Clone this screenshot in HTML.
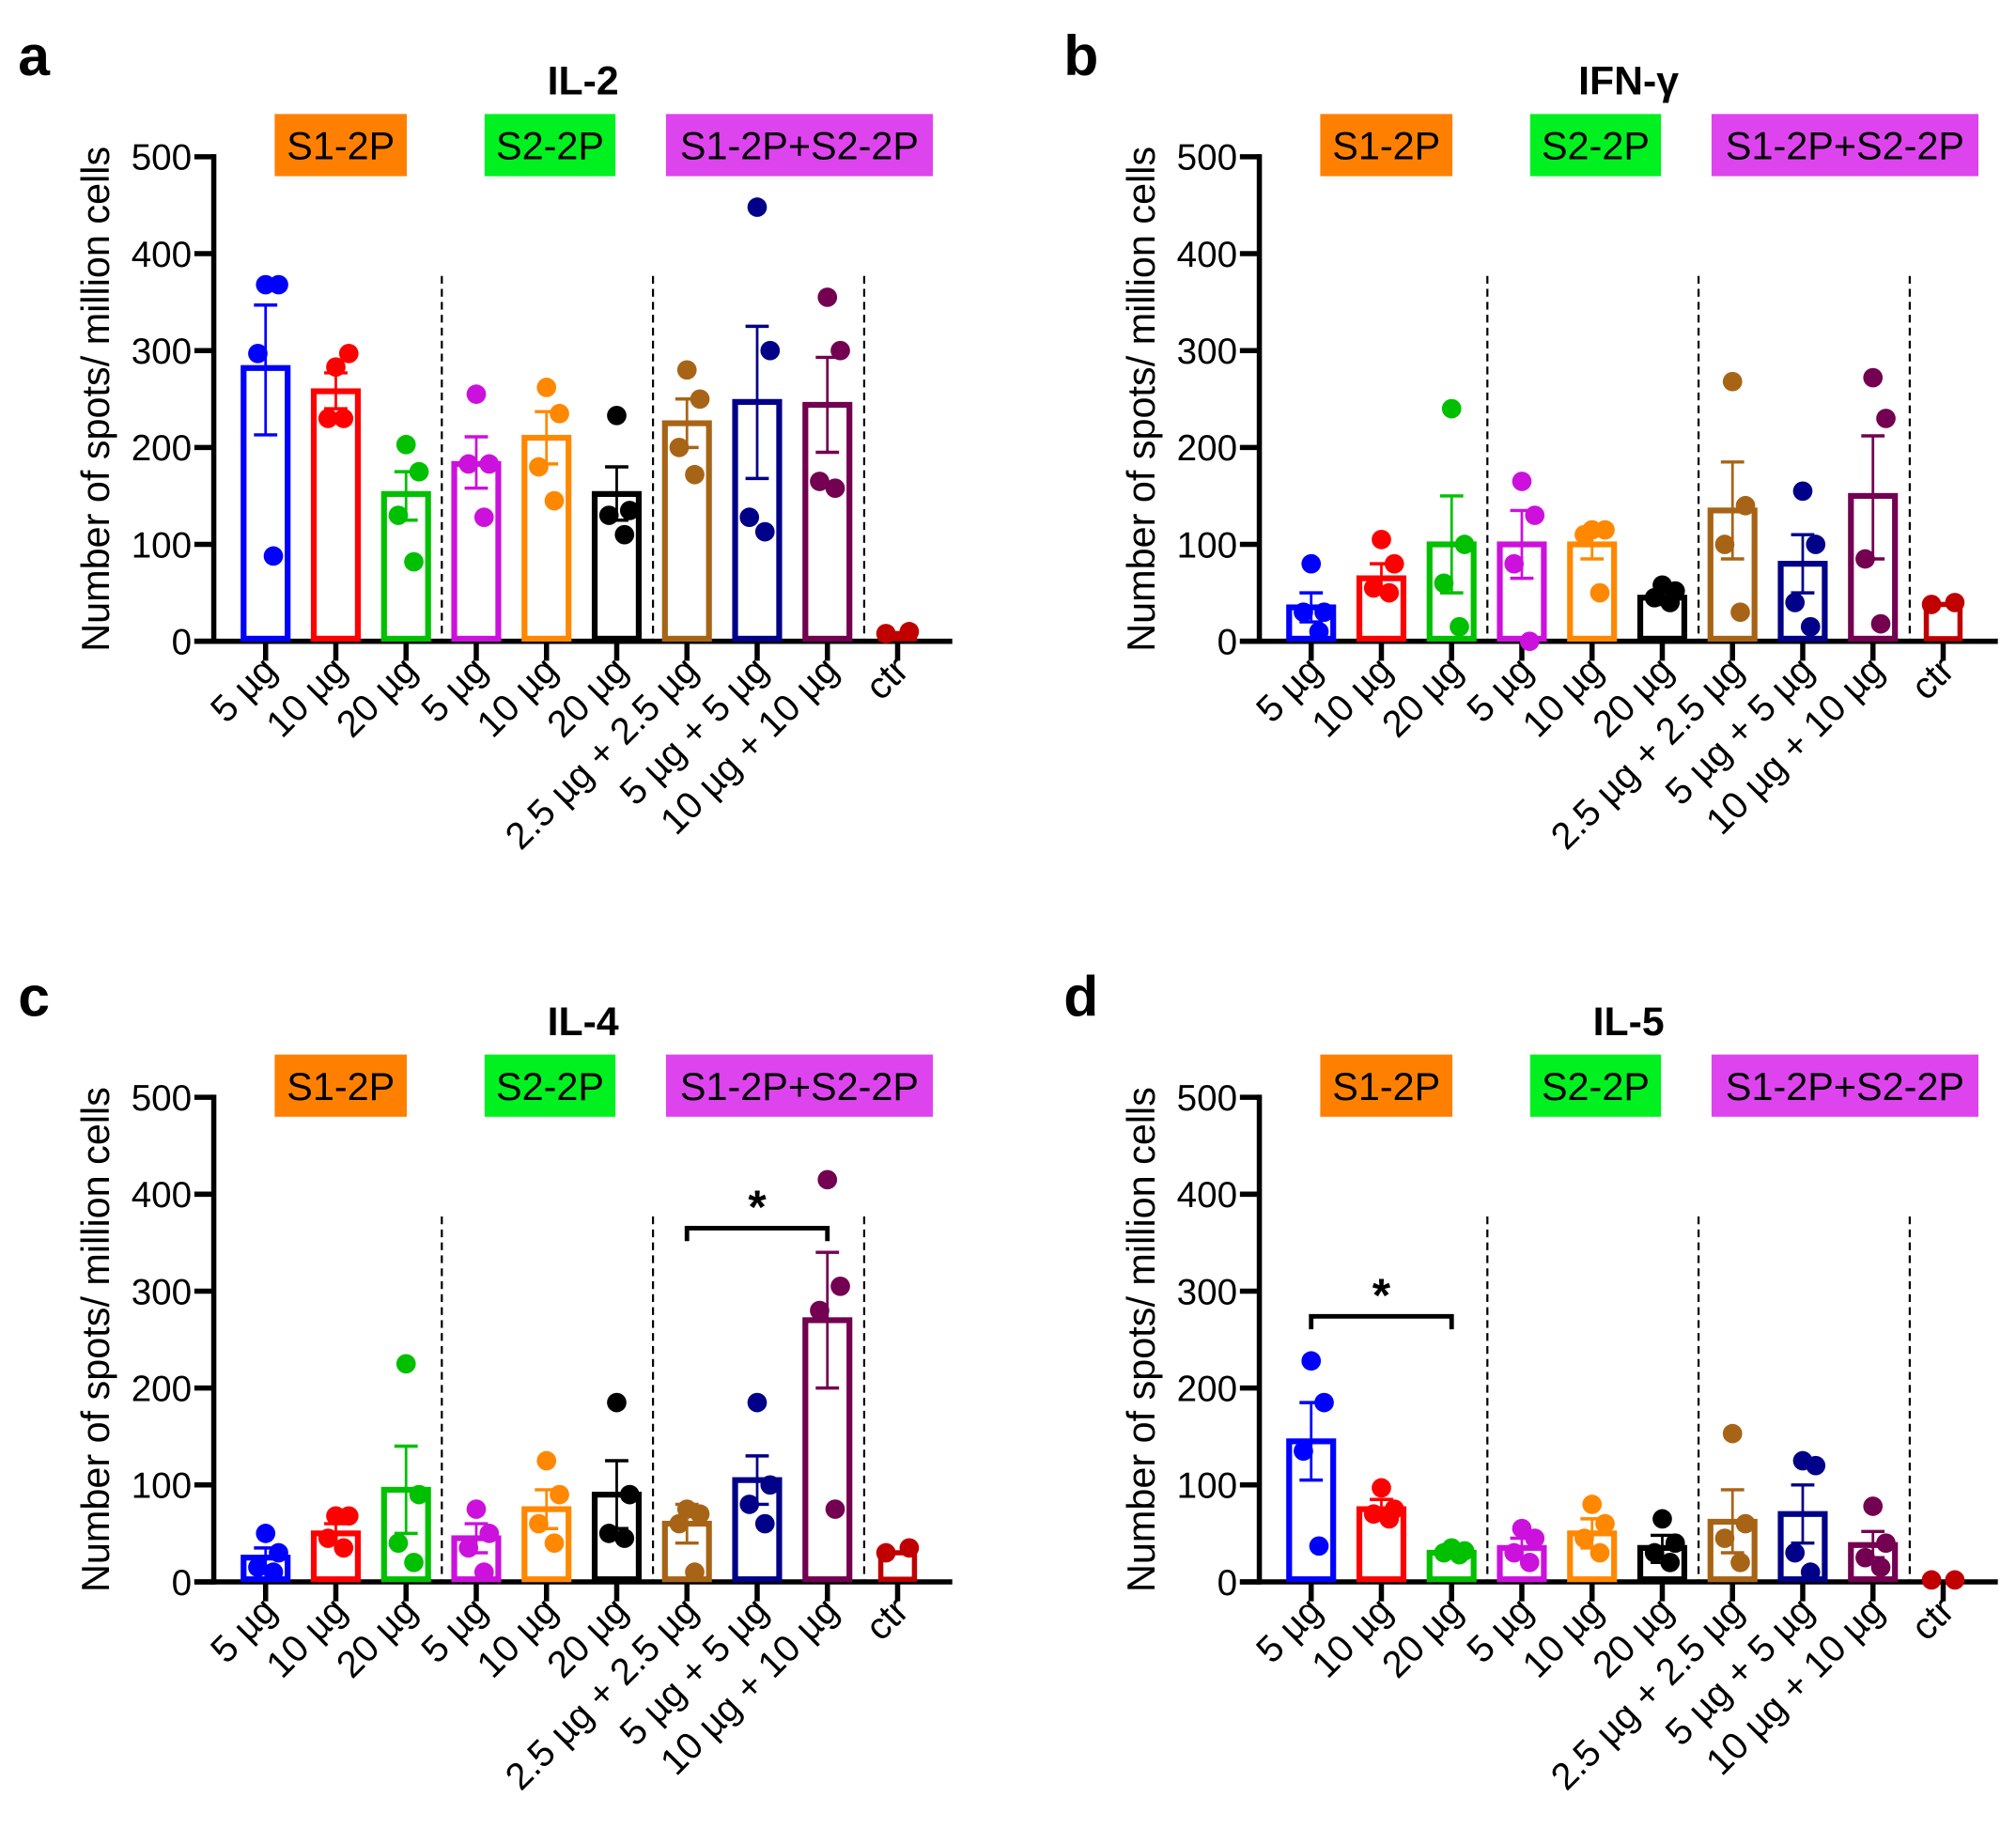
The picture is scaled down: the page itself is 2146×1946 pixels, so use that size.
<!DOCTYPE html>
<html><head><meta charset="utf-8"><style>
html,body{margin:0;padding:0;background:#fff;}
svg{display:block;}
text{font-family:"Liberation Sans",Arial,sans-serif;}
</style></head><body>
<svg id="s" width="2146" height="1946" viewBox="0 0 1556 1411" xmlns="http://www.w3.org/2000/svg"></svg>
<script>
const cols=['#0000ff','#ff0000','#00c000','#cc11dd','#ff8800','#000000','#a86416','#000088','#730050','#c00000'];
const labels=['5 µg','10 µg','20 µg','5 µg','10 µg','20 µg','2.5 µg + 2.5  µg','5 µg + 5  µg','10  µg + 10 µg','ctr'];
const panels=[
{dx:0,dy:0,L:'a',T:'IL-2',d:[[282,213,347,[368,368,297,88]],[258,240,277,[283,297,230,230]],[152,125,175,[203,175,130,82]],[183,158,211,[255,183,183,128]],[210,183,237,[262,235,180,145]],[152,125,180,[233,135,130,110]],[225,200,250,[280,250,200,172]],[247,168,325,[448,300,128,113]],[244,195,293,[355,300,165,158]],[8,6,10,[8,10]]]},
{dx:807,dy:0,L:'b',T:'IFN-γ',d:[[35,20,50,[80,30,30,10]],[65,50,80,[105,80,55,50]],[100,50,150,[240,100,60,15]],[100,65,135,[165,130,80,0]],[100,85,115,[115,115,110,50]],[45,38,52,[58,52,45,40]],[135,85,185,[268,140,100,30]],[80,50,110,[155,100,40,15]],[150,85,212,[272,230,85,18]],[38,36,40,[38,40]]]},
{dx:0,dy:726,L:'c',T:'IL-4',sig:[6,8,365],d:[[25,15,35,[50,30,15,10]],[50,40,60,[68,68,45,35]],[95,50,140,[225,90,40,20]],[45,30,60,[75,50,35,10]],[75,55,95,[125,90,60,40]],[90,55,125,[185,90,50,45]],[60,40,80,[75,70,60,10]],[105,80,130,[185,100,80,60]],[270,200,340,[415,305,280,75]],[30,28,32,[30,35]]]},
{dx:807,dy:726,L:'d',T:'IL-5',sig:[0,2,274],d:[[145,105,185,[228,185,135,37]],[75,65,85,[97,75,70,65]],[30,28,33,[35,32,30,28]],[35,25,45,[55,45,30,20]],[50,35,65,[80,60,45,30]],[35,20,48,[65,40,30,20]],[62,30,95,[153,60,45,20]],[70,40,100,[125,120,30,10]],[38,25,52,[78,40,25,15]],[2,1,3,[2,2]]]}
];
let h='';
const jit=[-10,10,-6,6];
for(const p of panels){
  const ox=p.dx, oy=p.dy, y0=495+oy, k=0.748;
  const Y=v=>y0-v*k;
  h+=`<text x="${14+ox}" y="${58+oy}" font-size="44" font-weight="bold">${p.L}</text>`;
  h+=`<text x="${450+ox}" y="${73+oy}" font-size="31" font-weight="bold" text-anchor="middle">${p.T}</text>`;
  [[212,314,'#ff8000','S1-2P'],[374,475,'#00f020','S2-2P'],[514,720,'#dd44ee','S1-2P+S2-2P']].forEach(b=>{
    h+=`<rect x="${b[0]+ox}" y="${88+oy}" width="${b[1]-b[0]}" height="48" fill="${b[2]}"/>`;
    h+=`<text x="${(b[0]+b[1])/2+ox}" y="${123+oy}" font-size="30" text-anchor="middle">${b[3]}</text>`;
  });
  h+=`<line x1="${165+ox}" y1="${119+oy}" x2="${165+ox}" y2="${y0+2}" stroke="#000" stroke-width="4"/>`;
  h+=`<line x1="${150+ox}" y1="${y0}" x2="${735+ox}" y2="${y0}" stroke="#000" stroke-width="4"/>`;
  for(let v=0;v<=500;v+=100){
    h+=`<line x1="${150+ox}" y1="${Y(v)}" x2="${165+ox}" y2="${Y(v)}" stroke="#000" stroke-width="4"/>`;
    h+=`<text x="${148+ox}" y="${Y(v)+10}" font-size="28" text-anchor="end">${v}</text>`;
  }
  h+=`<text transform="translate(${84+ox},${308+oy}) rotate(-90)" font-size="30" text-anchor="middle">Number of spots/ million cells</text>`;
  [341,504,667].forEach(x=>h+=`<line x1="${x+ox}" y1="${213+oy}" x2="${x+ox}" y2="${y0}" stroke="#000" stroke-width="1.6" stroke-dasharray="6,4"/>`);
  p.d.forEach((d,i)=>{
    const cx=205+54.2*i+ox, c=cols[i], w=38;
    h+=`<line x1="${cx}" y1="${y0}" x2="${cx}" y2="${y0+15}" stroke="#000" stroke-width="4"/>`;
    h+=`<text transform="translate(${cx+10},${y0+24}) rotate(-45)" font-size="29" text-anchor="end">${labels[i]}</text>`;
    if(i<9){
      h+=`<rect x="${cx-w/2+2}" y="${Y(d[0])}" width="${w-4}" height="${y0-Y(d[0])-2}" fill="none" stroke="${c}" stroke-width="4.5"/>`;
      h+=`<line x1="${cx}" y1="${Y(d[1])}" x2="${cx}" y2="${Y(d[2])}" stroke="${c}" stroke-width="2"/>`;
      h+=`<line x1="${cx-9}" y1="${Y(d[1])}" x2="${cx+9}" y2="${Y(d[1])}" stroke="${c}" stroke-width="2.5"/>`;
      h+=`<line x1="${cx-9}" y1="${Y(d[2])}" x2="${cx+9}" y2="${Y(d[2])}" stroke="${c}" stroke-width="2.5"/>`;
      d[3].forEach((v,j)=>h+=`<circle cx="${cx+(j==0?0:jit[j])}" cy="${Y(v)}" r="7.5" fill="${c}"/>`);
    } else {
      h+=`<rect x="${cx-13}" y="${Y(d[0])}" width="26" height="${y0-Y(d[0])-2}" fill="none" stroke="${c}" stroke-width="4"/>`;
      d[3].forEach((v,j)=>h+=`<circle cx="${cx+(j?9:-9)}" cy="${Y(v)}" r="7.5" fill="${c}"/>`);
    }
  });
  if(p.sig){
    const x1=205+54.2*p.sig[0]+ox, x2=205+54.2*p.sig[1]+ox, yb=Y(p.sig[2]);
    h+=`<polyline points="${x1},${yb+10} ${x1},${yb} ${x2},${yb} ${x2},${yb+10}" fill="none" stroke="#000" stroke-width="3.5"/>`;
    h+=`<text x="${(x1+x2)/2}" y="${yb-4}" font-size="36" font-weight="bold" text-anchor="middle">*</text>`;
  }
}
document.getElementById('s').innerHTML=h;
</script>
</body></html>
